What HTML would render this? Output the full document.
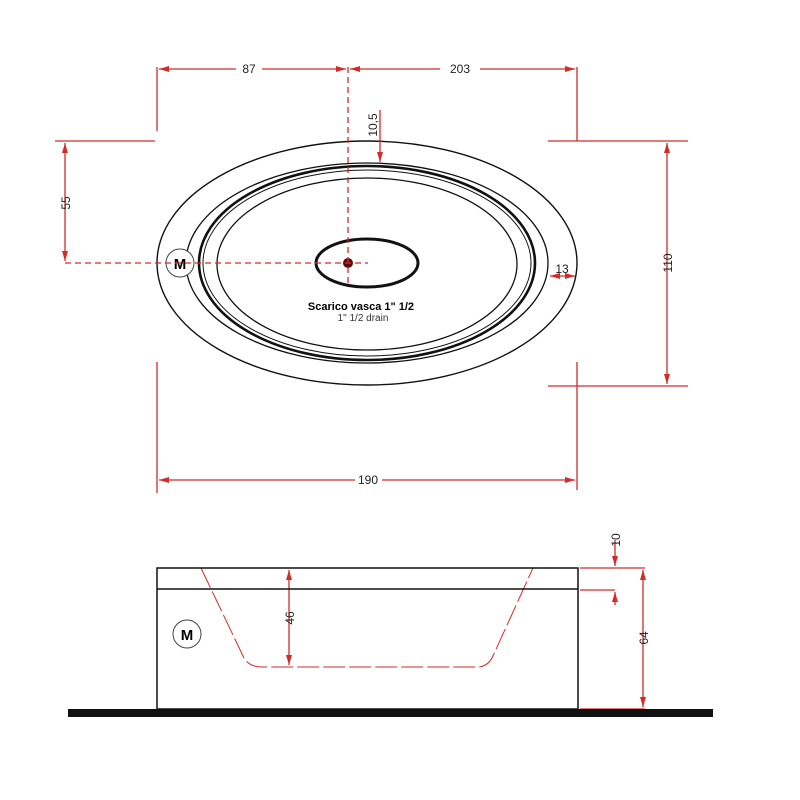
<!DOCTYPE html>
<html><head><style>body{margin:0;background:#fff}svg{display:block}text{font-family:"Liberation Sans",sans-serif}</style></head>
<body>
<svg width="800" height="800" viewBox="0 0 800 800" xmlns="http://www.w3.org/2000/svg">
<defs>
<marker id="a" viewBox="0 0 10 6" refX="10" refY="3" markerWidth="10" markerHeight="6" orient="auto-start-reverse" markerUnits="userSpaceOnUse"><path d="M0,0L10,3L0,6z" fill="#d42a2a"/></marker>
</defs>
<g fill="none" stroke="#111">
<ellipse cx="367" cy="263" rx="210" ry="122" stroke-width="1.4"/>
<ellipse cx="367" cy="263" rx="181" ry="100" stroke-width="1.3"/>
<ellipse cx="367" cy="263" rx="168" ry="97" stroke-width="2.6"/>
<ellipse cx="367" cy="263" rx="164" ry="93" stroke-width="1"/>
<ellipse cx="367" cy="264" rx="150" ry="86" stroke-width="1.3"/>
<ellipse cx="367" cy="263" rx="51" ry="24" stroke-width="3"/>
</g>
<circle cx="348" cy="263" r="5" fill="#5a0b0b"/>
<circle cx="180" cy="263" r="14" fill="#fff" stroke="#444" stroke-width="1"/>
<text x="180" y="269" font-size="15" font-weight="bold" text-anchor="middle">M</text>
<text x="361" y="310" font-size="11" font-weight="bold" text-anchor="middle">Scarico vasca 1" 1/2</text>
<text x="363" y="321" font-size="10" fill="#333" text-anchor="middle">1" 1/2  drain</text>
<g stroke="#d42a2a" fill="none" stroke-width="1.3">
<path d="M157 67V131M577 67V141M55 141H155M548 141H688M548 386H688M157 362V493M577 362V490"/>
<path d="M348 67V285M65 263H368" stroke-dasharray="6,4"/>
<path d="M159 69H236M262 69H346" marker-start="url(#a)" marker-end="url(#a)"/>
<path d="M350 69H440M480 69H575" marker-start="url(#a)" marker-end="url(#a)"/>
<path d="M65 143V261" marker-start="url(#a)" marker-end="url(#a)"/>
<path d="M667 143V384" marker-start="url(#a)" marker-end="url(#a)"/>
<path d="M159 480H355M382 480H575" marker-start="url(#a)" marker-end="url(#a)"/>
<path d="M380 110V162" marker-end="url(#a)"/>
<path d="M550 276H575" marker-start="url(#a)" marker-end="url(#a)"/>
<path d="M580 568H645M580 590H615M580 709H645"/>
<path d="M615 540V566" marker-end="url(#a)"/>
<path d="M615 605V592" marker-end="url(#a)"/>
<path d="M643 570V707" marker-start="url(#a)" marker-end="url(#a)"/>
<path d="M289 570V665" marker-start="url(#a)" marker-end="url(#a)"/>
<path d="M201 568L243 656Q248 667 262 667H477Q488 667 493 656L533 568" stroke-width="1" stroke-dasharray="22,4"/>
</g>
<g font-size="12" fill="#222" text-anchor="middle">
<text x="249" y="73">87</text>
<text x="460" y="73">203</text>
<text x="368" y="484">190</text>
<text x="562" y="273">13</text>
<text transform="translate(70,203) rotate(-90)">55</text>
<text transform="translate(672,263) rotate(-90)">110</text>
<text transform="translate(377,125) rotate(-90)">10,5</text>
<text transform="translate(294,618) rotate(-90)">46</text>
<text transform="translate(620,540) rotate(-90)">10</text>
<text transform="translate(648,638) rotate(-90)">64</text>
</g>
<g fill="none" stroke="#111" stroke-width="1.5">
<rect x="157" y="568" width="421" height="141"/>
<path d="M157 589H578"/>
</g>
<rect x="68" y="709" width="645" height="8" fill="#111"/>
<circle cx="187" cy="634" r="14" fill="#fff" stroke="#444" stroke-width="1"/>
<text x="187" y="640" font-size="15" font-weight="bold" text-anchor="middle">M</text>
</svg>
</body></html>
